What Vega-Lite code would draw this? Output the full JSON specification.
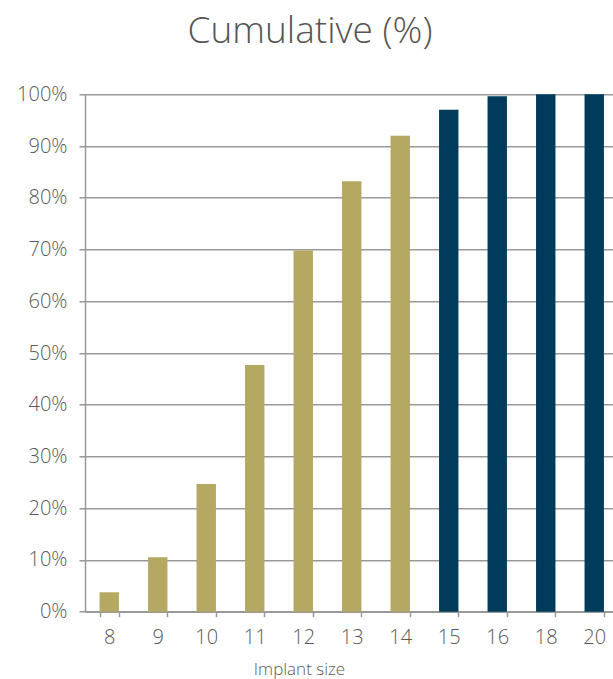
{
  "$schema": "https://vega.github.io/schema/vega-lite/v6.json",
  "autosize": {"type": "none"},
  "width": 528,
  "height": 517.4,
  "padding": {"left": 85, "top": 94.3, "right": 0, "bottom": 67.3},
  "background": "white",
  "title": {
    "text": "Cumulative (%)",
    "font": "Open Sans",
    "fontSize": 37,
    "fontWeight": 300,
    "color": "#555555",
    "anchor": "middle",
    "frame": "group",
    "dx": -39,
    "offset": 33
  },
  "data": {
    "values": [
      {"size": "8", "cum": 0.0375, "group": "low"},
      {"size": "9", "cum": 0.105, "group": "low"},
      {"size": "10", "cum": 0.247, "group": "low"},
      {"size": "11", "cum": 0.477, "group": "low"},
      {"size": "12", "cum": 0.698, "group": "low"},
      {"size": "13", "cum": 0.832, "group": "low"},
      {"size": "14", "cum": 0.920, "group": "low"},
      {"size": "15", "cum": 0.970, "group": "high"},
      {"size": "16", "cum": 0.996, "group": "high"},
      {"size": "18", "cum": 1.0, "group": "high"},
      {"size": "20", "cum": 1.0, "group": "high"}
    ]
  },
  "mark": {"type": "bar"},
  "encoding": {
    "x": {
      "field": "size",
      "type": "ordinal",
      "sort": null,
      "scale": {"range": [0, 533.5], "paddingInner": 0.6, "paddingOuter": 0.3},
      "axis": {
        "title": "Implant size",
        "titleFont": "Open Sans",
        "titleFontSize": 17,
        "titleFontWeight": 300,
        "titleColor": "#595959",
        "titleX": 214,
        "titleY": 63,
        "titleAlign": "center",
        "titleBaseline": "alphabetic",
        "labelFont": "Open Sans",
        "labelFontSize": 20,
        "labelFontWeight": 300,
        "labelColor": "#595959",
        "labelAngle": 0,
        "labelPadding": 11,
        "tickBand": "extent",
        "tickSize": 5,
        "tickColor": "#999999",
        "tickWidth": 1.5,
        "domainColor": "#999999",
        "domainWidth": 1.5,
        "grid": false
      }
    },
    "y": {
      "field": "cum",
      "type": "quantitative",
      "scale": {"domain": [0, 1], "nice": false},
      "axis": {
        "title": null,
        "values": [0, 0.1, 0.2, 0.3, 0.4, 0.5, 0.6, 0.7, 0.8, 0.9, 1.0],
        "format": ".0%",
        "labelFont": "Open Sans",
        "labelFontSize": 20,
        "labelFontWeight": 300,
        "labelColor": "#595959",
        "labelPadding": 12,
        "tickSize": 6,
        "tickColor": "#999999",
        "tickWidth": 1.5,
        "domainColor": "#999999",
        "domainWidth": 1.5,
        "grid": true,
        "gridColor": "#999999",
        "gridWidth": 1.5
      }
    },
    "color": {
      "field": "group",
      "type": "nominal",
      "scale": {"domain": ["low", "high"], "range": ["#B4A862", "#003B5C"]},
      "legend": null
    }
  },
  "config": {"view": {"stroke": null}}
}
